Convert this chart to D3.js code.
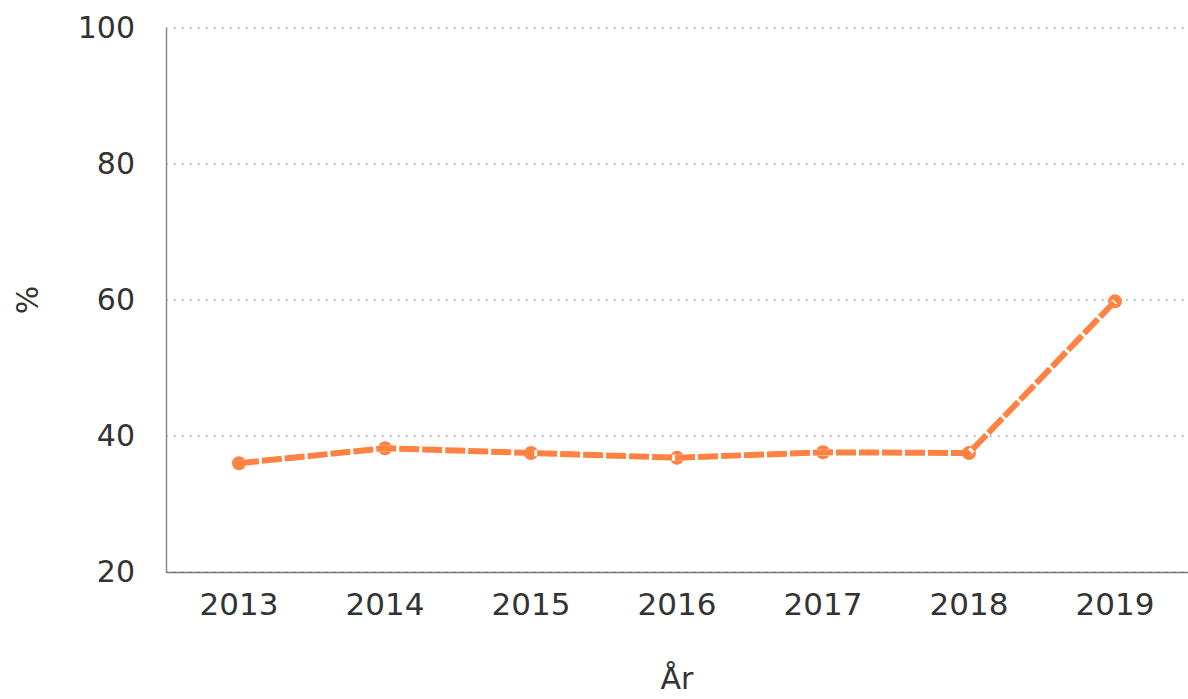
<!DOCTYPE html>
<html><head><meta charset="utf-8">
<script src="https://cdn.jsdelivr.net/npm/d3@7"></script>
<style>html,body{margin:0;padding:0;background:#fff;overflow:hidden}</style>
</head><body>
<svg id="c" width="1188" height="699"></svg>
<script>
const years = ["2013","2014","2015","2016","2017","2018","2019"];
const values = [36.0, 38.2, 37.5, 36.8, 37.6, 37.5, 59.8];
const yTicks = [20, 40, 60, 80, 100];
const xTitle = "År";
const yTitle = "%";

const svg = d3.select("#c");
const m = {l:166, r:1188, t:28, b:572};
const x = d3.scaleBand().domain(years).range([m.l, m.r]);
const y = d3.scaleLinear().domain([20,100]).range([m.b, m.t]);
const font = "DejaVu Sans, sans-serif";

// grid
svg.append("g").selectAll("line").data(yTicks).join("line")
  .attr("x1", m.l).attr("x2", m.r)
  .attr("y1", d=>y(d)).attr("y2", d=>y(d))
  .attr("stroke", "#999").attr("stroke-width", 1.5)
  .attr("stroke-dasharray", "1.5,6.5");

// y axis
const ya = svg.append("g").attr("transform", `translate(${m.l},0)`)
  .call(d3.axisLeft(y).tickValues(yTicks).tickSize(0).tickPadding(31));
ya.select(".domain").attr("stroke", "#888").attr("stroke-width", 1.5);
ya.selectAll("text").attr("font-family", font).attr("font-size", 30).attr("fill", "#333");

// x axis
const xa = svg.append("g").attr("transform", `translate(0,${m.b})`)
  .call(d3.axisBottom(x).tickSize(0).tickPadding(21));
xa.select(".domain").attr("stroke", "#777").attr("stroke-width", 1.5);
xa.selectAll("text").attr("font-family", font).attr("font-size", 31).attr("fill", "#333");

// titles
svg.append("text").attr("x", 677).attr("y", 689).attr("text-anchor", "middle")
  .attr("font-family", font).attr("font-size", 30).attr("fill", "#333").text(xTitle);
svg.append("text").attr("transform", "translate(38,300) rotate(-90)").attr("text-anchor", "middle")
  .attr("font-family", font).attr("font-size", 30).attr("fill", "#333").text(yTitle);

const pts = years.map((yr,i)=>[x(yr)+x.bandwidth()/2, y(values[i])]);
const color = "#ff8243";

// markers
svg.append("g").selectAll("circle").data(pts).join("circle")
  .attr("cx", d=>d[0]).attr("cy", d=>d[1]).attr("r", 7).attr("fill", color);

// line: white under-stroke then orange dashes
const line = d3.line();
svg.append("path").attr("d", line(pts)).attr("fill","none")
  .attr("stroke", "#fff").attr("stroke-width", 6).attr("stroke-linejoin","round");
svg.append("path").attr("d", line(pts)).attr("fill","none")
  .attr("stroke", color).attr("stroke-width", 6)
  .attr("stroke-dasharray", "20,3").attr("stroke-linejoin","round");
</script>
</body></html>
